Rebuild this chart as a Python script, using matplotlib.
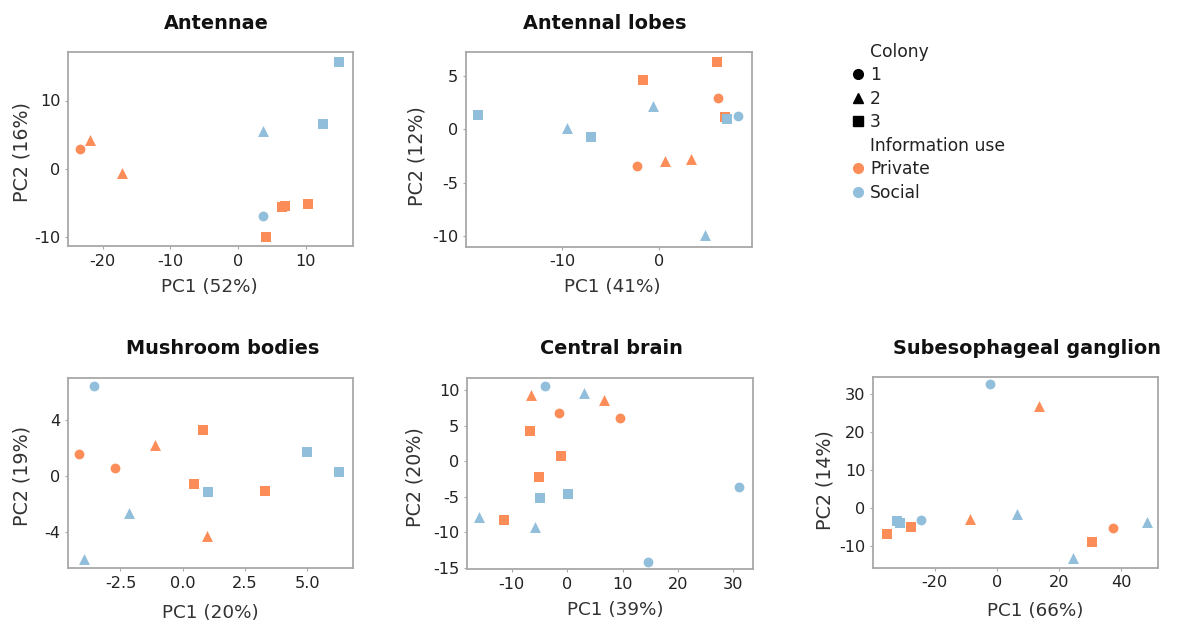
import matplotlib
matplotlib.use('Agg')
import matplotlib.pyplot as plt
from matplotlib.lines import Line2D

plt.rcParams['font.family'] = ['DejaVu Sans']
plt.rcParams['axes.unicode_minus'] = False

# PCA scores (colony 1/2/3, P = private, S = social)
antennae_pc1 = [-23.4, -21.8, -17.1, 3.7, 12.5, 15.0, 3.7, 6.5, 7.0, 10.4, 4.1]
antennae_pc2 = [2.9, 4.2, -0.6, 5.6, 6.5, 15.7, -6.9, -5.6, -5.4, -5.2, -10.0]
antennae_colony = [1, 2, 2, 2, 3, 3, 1, 3, 3, 3, 3]
antennae_info = ['P', 'P', 'P', 'S', 'S', 'S', 'S', 'P', 'P', 'P', 'P']

lobes_pc1 = [-18.7, -9.55, -7.0, -1.65, -0.7, -2.3, 0.6, 3.3, 4.7, 5.9, 6.0, 6.8, 7.0, 8.1]
lobes_pc2 = [1.3, 0.1, -0.7, 4.6, 2.2, -3.4, -3.0, -2.8, -9.9, 6.3, 2.9, 1.1, 1.0, 1.25]
lobes_colony = [3, 2, 3, 3, 2, 1, 2, 2, 2, 3, 1, 3, 3, 1]
lobes_info = ['S', 'S', 'S', 'P', 'S', 'P', 'P', 'P', 'S', 'P', 'P', 'P', 'S', 'S']

mushroom_pc1 = [-3.57, -4.16, -2.73, -1.12, -2.16, -3.96, 0.83, 0.47, 1.03, 0.99, 3.31, 5.0, 6.29]
mushroom_pc2 = [6.45, 1.56, 0.6, 2.2, -2.66, -5.95, 3.31, -0.58, -1.18, -4.29, -1.06, 1.7, 0.29]
mushroom_colony = [1, 1, 1, 2, 2, 2, 3, 3, 3, 2, 3, 3, 3]
mushroom_info = ['S', 'P', 'P', 'P', 'S', 'S', 'P', 'P', 'S', 'P', 'P', 'S', 'S']

central_pc1 = [-3.97, -6.5, 3.0, 6.6, -1.44, 9.5, -6.7, -1.2, -5.05, -5.0, 0.07, 31.0,
               -15.9, -11.5, -5.8, 14.5]
central_pc2 = [10.6, 9.4, 9.6, 8.6, 6.76, 6.1, 4.3, 0.75, -2.25, -5.16, -4.6, -3.57,
               -7.9, -8.2, -9.3, -14.2]
central_colony = [1, 2, 2, 2, 1, 1, 3, 3, 3, 3, 3, 1, 2, 3, 2, 1]
central_info = ['S', 'P', 'S', 'P', 'P', 'P', 'P', 'P', 'P', 'S', 'S', 'S', 'S', 'P', 'S', 'S']

seg_pc1 = [-2.05, 13.7, -35.3, -32.2, -31.1, -27.6, -24.2, -8.6, 6.4, 24.4, 30.7, 37.5, 48.3]
seg_pc2 = [32.5, 26.7, -6.8, -3.5, -4.0, -5.1, -3.3, -2.9, -1.75, -13.2, -9.1, -5.4, -3.7]
seg_colony = [1, 2, 3, 3, 3, 3, 1, 2, 2, 2, 3, 1, 2]
seg_info = ['S', 'P', 'P', 'S', 'S', 'P', 'S', 'P', 'S', 'S', 'P', 'P', 'S']

panel_names = ['Antennae', 'Antennal lobes', 'Mushroom bodies', 'Central brain',
               'Subesophageal ganglion']
pc1_share = [52, 41, 20, 39, 66]
pc2_share = [16, 12, 19, 20, 14]

colors = {'P': '#FC8D59', 'S': '#91BFDB'}
markers = {1: 'o', 2: '^', 3: 's'}
msize = {1: 50, 2: 62, 3: 44}

W, H = 1203, 637
fig = plt.figure(figsize=(W / 100, H / 100), dpi=100)

# pixel layout: axes box (l, t, r, b), title (cx, baseline), xlabel (cx, cy), ylabel (cx, cy)
layout = [
    dict(box=(68, 52, 353, 246), title=(216, 29), xlab=(209, 287), ylab=(21.7, 152),
         xlim=(-25.1, 17.0), ylim=(-11.3, 17.1), xt=[-20, -10, 0, 10], yt=[-10, 0, 10]),
    dict(box=(466, 52.3, 751.7, 246.7), title=(604.3, 29), xlab=(612.3, 286.7), ylab=(416.7, 156),
         xlim=(-19.9, 9.5), ylim=(-11.0, 7.2), xt=[-10, 0], yt=[-10, -5, 0, 5]),
    dict(box=(67.7, 377.7, 352.7, 568.3), title=(222.3, 354.3), xlab=(210, 613), ylab=(21.7, 476),
         xlim=(-4.62, 6.83), ylim=(-6.64, 7.07), xt=[-2.5, 0.0, 2.5, 5.0], yt=[-4, 0, 4]),
    dict(box=(467, 377.7, 752.7, 569.3), title=(611.3, 354.3), xlab=(615.7, 610), ylab=(415, 477),
         xlim=(-18.1, 33.5), ylim=(-15.2, 11.8), xt=[-10, 0, 10, 20, 30],
         yt=[-15, -10, -5, 0, 5, 10]),
    dict(box=(873.3, 376.7, 1157.7, 567.7), title=(1026.7, 354.3), xlab=(1035, 610.7),
         ylab=(825, 480), xlim=(-39.7, 51.8), ylim=(-15.8, 34.5), xt=[-20, 0, 20, 40],
         yt=[-10, 0, 10, 20, 30]),
]

data = [
    (antennae_pc1, antennae_pc2, antennae_colony, antennae_info),
    (lobes_pc1, lobes_pc2, lobes_colony, lobes_info),
    (mushroom_pc1, mushroom_pc2, mushroom_colony, mushroom_info),
    (central_pc1, central_pc2, central_colony, central_info),
    (seg_pc1, seg_pc2, seg_colony, seg_info),
]

spine_col = '#a8a8a8'
for i, (xs, ys, col, inf) in enumerate(data):
    lay = layout[i]
    l, t, r, b = lay['box']
    ax = fig.add_axes([l / W, 1 - b / H, (r - l) / W, (b - t) / H])
    for c in [1, 2, 3]:
        for info in ['P', 'S']:
            px = [x for x, cc, ii in zip(xs, col, inf) if cc == c and ii == info]
            py = [y for y, cc, ii in zip(ys, col, inf) if cc == c and ii == info]
            if px:
                ax.scatter(px, py, marker=markers[c], s=msize[c], color=colors[info],
                           linewidths=0, zorder=3)
    ax.set_xlim(*lay['xlim'])
    ax.set_ylim(*lay['ylim'])
    ax.set_xticks(lay['xt'])
    ax.set_yticks(lay['yt'])
    if i == 2:
        ax.set_xticklabels(['%.1f' % v for v in lay['xt']])
    for s in ax.spines.values():
        s.set_color(spine_col)
        s.set_linewidth(1.3)
    ax.tick_params(length=2.5, width=0.8, color=spine_col, labelsize=11.6,
                   labelcolor='#222222', pad=3)

    ax.set_xlabel('PC1 (%d%%)' % pc1_share[i], fontsize=13.2, color='#333333')
    ax.set_ylabel('PC2 (%d%%)' % pc2_share[i], fontsize=13.7, color='#333333')
    xc, yc = lay['xlab']
    ax.xaxis.set_label_coords((xc - l) / (r - l), (b - yc) / (b - t))
    ax.xaxis.label.set_va('center')
    xc, yc = lay['ylab']
    ax.yaxis.set_label_coords((xc - l) / (r - l), (b - yc) / (b - t))
    ax.yaxis.label.set_va('center')

    tx, ty = lay['title']
    fig.text(tx / W, 1 - ty / H, panel_names[i], ha='center', va='baseline',
             fontsize=13.9, fontweight='bold', color='#111111')

# legend: colony shapes and information-use colours
blank = Line2D([], [], linestyle='none', marker=None)
handles = [
    blank,
    Line2D([], [], linestyle='none', marker='o', color='black', markersize=7),
    Line2D([], [], linestyle='none', marker='^', color='black', markersize=7),
    Line2D([], [], linestyle='none', marker='s', color='black', markersize=6.5),
    blank,
    Line2D([], [], linestyle='none', marker='o', color=colors['P'], markersize=7),
    Line2D([], [], linestyle='none', marker='o', color=colors['S'], markersize=7),
]
labels = ['Colony', '1', '2', '3', 'Information use', 'Private', 'Social']
fig.legend(handles, labels, loc='upper left', bbox_to_anchor=(852 / W, 1 - 43 / H),
           frameon=False, fontsize=12.3, handlelength=0.7, handletextpad=0.35,
           labelspacing=0.32, borderpad=0, borderaxespad=0, labelcolor='#222222')

fig.savefig('out.png', dpi=100)
